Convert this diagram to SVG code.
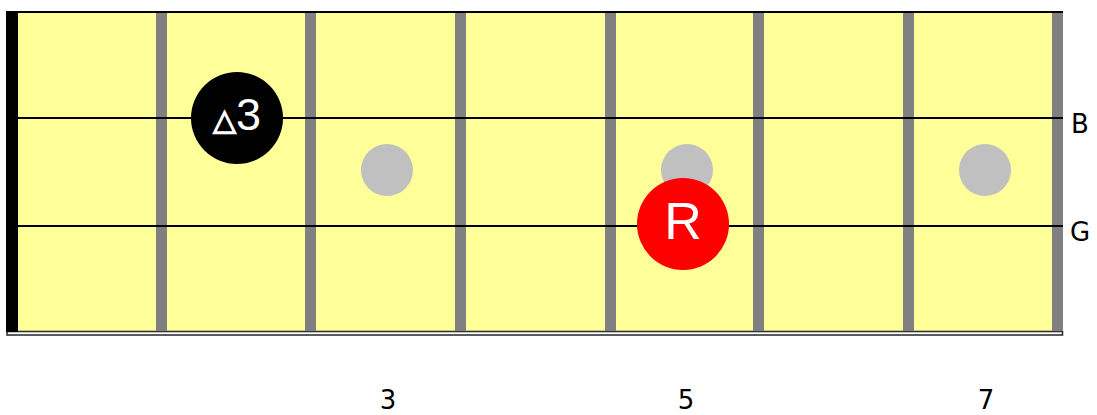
<svg xmlns="http://www.w3.org/2000/svg" width="1097" height="415" viewBox="0 0 1097 415">
<style>
.fret{fill:#808080}
.inlay{fill:#c0c0c0}
.str{stroke:#000;stroke-width:2}
.lbl{font-family:"DejaVu Sans",sans-serif;font-size:26px;fill:#000}
.note{font-family:"Liberation Sans",Arial,sans-serif;fill:#fff;text-anchor:middle}
</style>
<rect width="1097" height="415" fill="#fff"/>
<g id="fretboard">
<rect x="7" y="12" width="1055" height="320" fill="#ffff99"/>
<rect x="7" y="331.5" width="1055.5" height="3.5" fill="#fff" stroke="#333" stroke-width="1.6"/>
<line x1="6" y1="12" x2="1063" y2="12" stroke="#000" stroke-width="2"/>
<rect x="6" y="11" width="12" height="321" fill="#000"/>
<rect class="fret" x="156" y="13" width="11" height="318"/>
<rect class="fret" x="305" y="13" width="11" height="318"/>
<rect class="fret" x="455" y="13" width="11" height="318"/>
<rect class="fret" x="605" y="13" width="11" height="318"/>
<rect class="fret" x="753" y="13" width="11" height="318"/>
<rect class="fret" x="903" y="13" width="11" height="318"/>
<rect class="fret" x="1052" y="13" width="11" height="318"/>
</g>
<g id="inlays">
<circle class="inlay" cx="387" cy="170" r="26"/>
<circle class="inlay" cx="687" cy="170" r="26"/>
<circle class="inlay" cx="985" cy="170" r="26"/>
</g>
<g id="connectors">
<line class="str" x1="18" y1="118" x2="1063" y2="118"/>
<line class="str" x1="18" y1="226" x2="1063" y2="226"/>
</g>
<g id="string-labels">
<text class="lbl" x="1071" y="133">B</text>
<text class="lbl" x="1070" y="241">G</text>
</g>
<g id="note-maj3">
<circle cx="237" cy="118" r="46" fill="#000"/>
<text class="note" x="237" y="130"><tspan font-family="DejaVu Sans,sans-serif" font-size="30" stroke="#fff" stroke-width="1.3">△</tspan><tspan font-size="45">3</tspan></text>
</g>
<g id="note-root">
<circle cx="683" cy="224" r="46" fill="#f00"/>
<text class="note" x="683" y="239" font-size="52">R</text>
</g>
<g id="fret-numbers">
<text class="lbl" x="388" y="409" text-anchor="middle">3</text>
<text class="lbl" x="686" y="409" text-anchor="middle">5</text>
<text class="lbl" x="986" y="409" text-anchor="middle">7</text>
</g>
</svg>
